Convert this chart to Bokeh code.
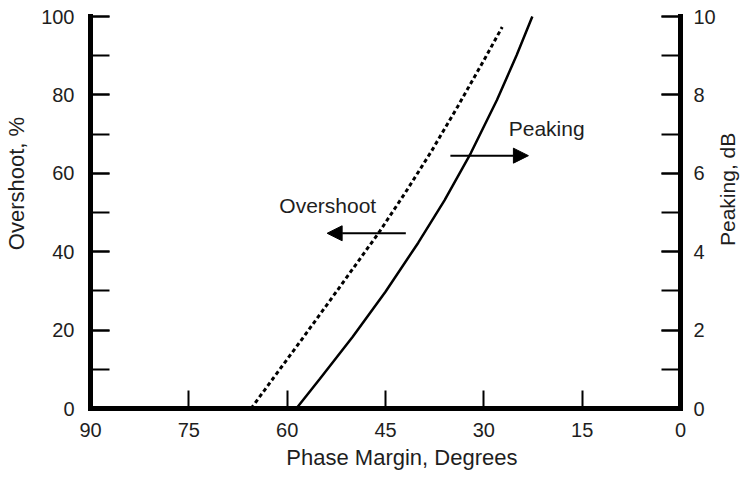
from bokeh.plotting import figure
from bokeh.models import (Range1d, LinearAxis, SingleIntervalTicker, FixedTicker,
                          Label, Arrow, NormalHead)
from bokeh.embed import file_html
from bokeh.resources import INLINE

# ---- data ----
phase_overshoot = [65.5, 62, 58, 54, 50, 46, 42, 38, 34, 30, 27.2]
overshoot_pct = [0, 8.0, 17.1, 26.3, 35.6, 44.9, 55.0, 65.6, 77.0, 88.8, 97.3]
phase_peaking = [58.6, 55, 50, 45, 40, 36, 32, 28, 25, 22.6]
peaking_db = [0, 0.76, 1.83, 2.98, 4.23, 5.31, 6.51, 7.87, 9.01, 10]
x_ticks = [90, 75, 60, 45, 30, 15, 0]

FONT = "Liberation Sans"
TXT = "#1e1e1e"
FS = "20px"

W, H = 742, 475
# pixel layout of the chart box (left, right, bottom, top)
PX_L, PX_R, PX_B, PX_T = 90, 680, 408, 16
kx = (PX_R - PX_L) / 90.0
ky = (PX_B - PX_T) / 100.0
x_lo = 90 + PX_L / kx
x_hi = 0 - (W - PX_R) / kx
y_lo = -(H - PX_B) / ky
y_hi = 100 + PX_T / ky

p = figure(width=W, height=H,
           x_range=Range1d(x_lo, x_hi), y_range=Range1d(y_lo, y_hi),
           output_backend="svg", toolbar_location=None,
           min_border=0, y_axis_location=None, x_axis_location=None)
p.extra_y_ranges = {"peak": Range1d(y_lo / 10, y_hi / 10)}
p.outline_line_color = None
p.xgrid.visible = False
p.ygrid.visible = False
p.background_fill_color = "white"
p.border_fill_color = "white"


def style_axis(ax, tick_len, standoff):
    ax.axis_line_width = 5
    ax.axis_line_color = "black"
    ax.axis_line_cap = "square"
    ax.major_tick_in = tick_len
    ax.major_tick_out = 0
    ax.minor_tick_in = tick_len
    ax.minor_tick_out = 0
    ax.major_tick_line_width = 2
    ax.minor_tick_line_width = 2
    ax.major_tick_line_color = "black"
    ax.minor_tick_line_color = "black"
    ax.major_label_text_font = FONT
    ax.major_label_text_font_size = FS
    ax.major_label_text_color = TXT
    ax.major_label_standoff = standoff


left = LinearAxis(ticker=SingleIntervalTicker(interval=20, num_minor_ticks=2),
                  fixed_location=90, bounds=(0, 100))
style_axis(left, 19, 16)
p.add_layout(left, "left")

right = LinearAxis(y_range_name="peak",
                   ticker=SingleIntervalTicker(interval=2, num_minor_ticks=2),
                   fixed_location=0, bounds=(0, 10))
style_axis(right, 19, 13)
p.add_layout(right, "right")

bottom = LinearAxis(ticker=FixedTicker(ticks=x_ticks, minor_ticks=[]),
                    fixed_location=0, bounds=(0, 90))
style_axis(bottom, 18, 14)
p.add_layout(bottom, "below")

# curves
p.line(phase_overshoot, overshoot_pct, line_color="black", line_width=3,
       line_dash="4 3")
p.line(phase_peaking, peaking_db, y_range_name="peak", line_color="black",
       line_width=2.5)

# annotations
p.add_layout(Label(x=61.2, y=51.8, text="Overshoot", text_font=FONT,
                   text_font_size="21px", text_color=TXT, text_align="left",
                   text_baseline="middle"))
p.add_layout(Label(x=26.2, y=71.4, text="Peaking", text_font=FONT,
                   text_font_size="21px", text_color=TXT, text_align="left",
                   text_baseline="middle"))
p.add_layout(Arrow(end=NormalHead(size=15, fill_color="black", line_color="black"),
                   x_start=41.9, y_start=44.7, x_end=53.9, y_end=44.7,
                   line_width=2, line_color="black"))
p.add_layout(Arrow(end=NormalHead(size=15, fill_color="black", line_color="black"),
                   x_start=35.1, y_start=64.5, x_end=23.2, y_end=64.5,
                   line_width=2, line_color="black"))

# axis titles
p.add_layout(Label(x=101.3, y=57.4, text="Overshoot, %", angle=1.5708,
                   text_font=FONT, text_font_size="22px", text_color=TXT,
                   text_align="center", text_baseline="middle"))
p.add_layout(Label(x=-7.2, y=55.9, text="Peaking, dB", angle=1.5708,
                   text_font=FONT, text_font_size="21px", text_color=TXT,
                   text_align="center", text_baseline="middle"))
p.add_layout(Label(x=42.5, y=-12.5, text="Phase Margin, Degrees",
                   text_font=FONT, text_font_size="22px", text_color=TXT,
                   text_align="center", text_baseline="middle"))

open("out.html", "w").write(file_html(p, INLINE))
